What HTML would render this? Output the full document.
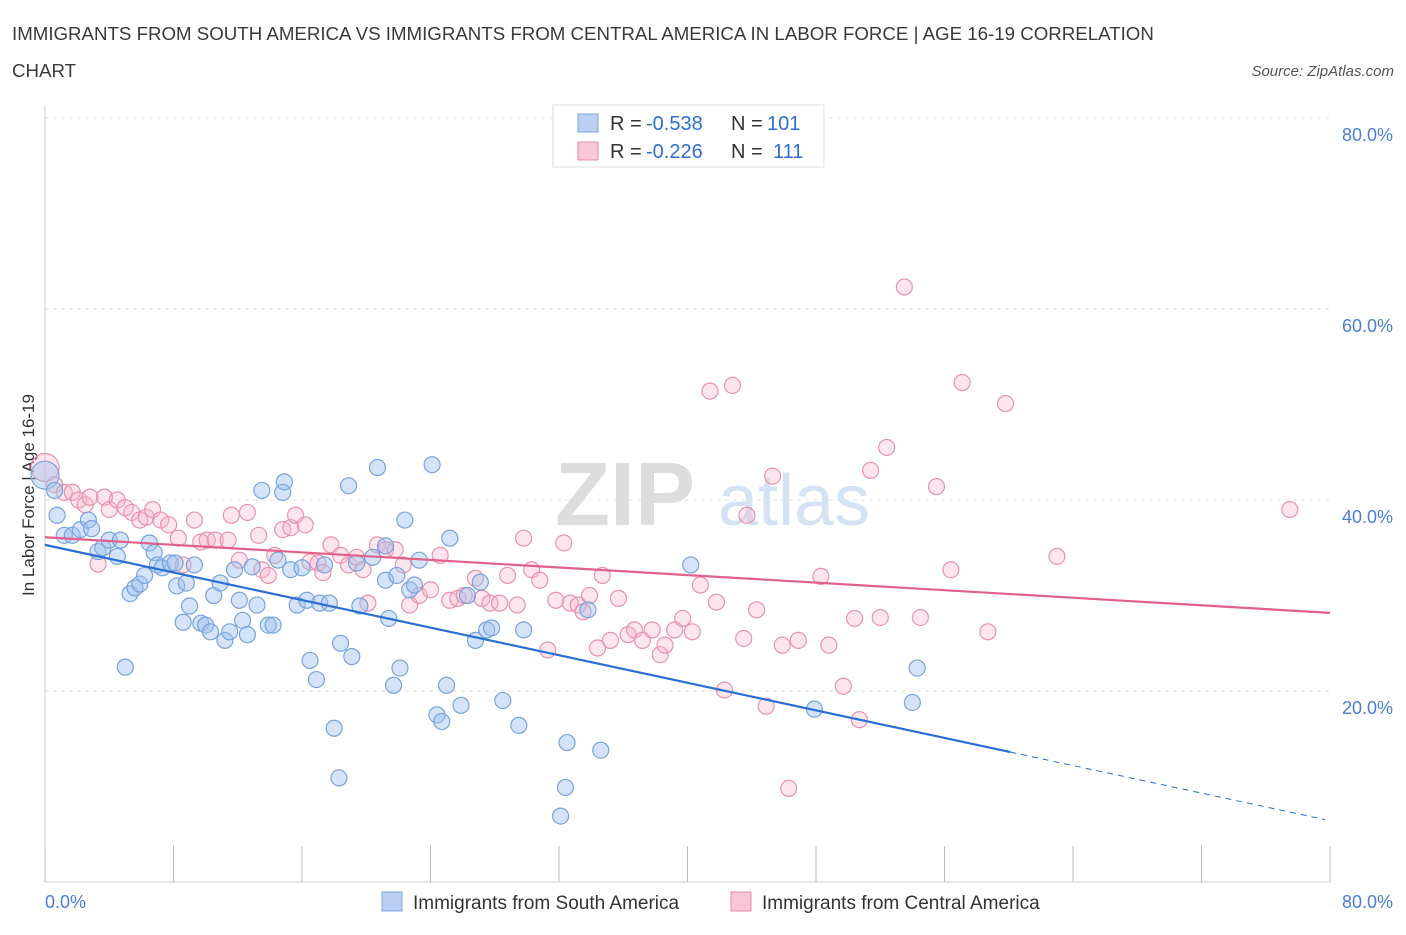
<!DOCTYPE html>
<html><head><meta charset="utf-8"><style>
body{margin:0;background:#fff;font-family:"Liberation Sans",sans-serif;}
svg text{font-family:"Liberation Sans",sans-serif;}
</style></head><body>
<svg id="chart" width="1406" height="930" xmlns="http://www.w3.org/2000/svg">
<text x="12" y="40" font-size="18.7" fill="#3a3a3a">IMMIGRANTS FROM SOUTH AMERICA VS IMMIGRANTS FROM CENTRAL AMERICA IN LABOR FORCE | AGE 16-19 CORRELATION</text>
<text x="12" y="77" font-size="18.7" fill="#3a3a3a">CHART</text>
<text x="1394" y="76" font-size="15" fill="#555" font-style="italic" text-anchor="end">Source: ZipAtlas.com</text>
<g id="grid"></g>
<text x="555" y="525" font-size="90" fill="#ddd" font-family="Liberation Serif" font-weight="bold">ZIP</text>
<text x="718" y="525" font-size="72" fill="#d4e2f4">atlas</text>
<text transform="translate(34,495) rotate(-90)" font-size="17" fill="#333" text-anchor="middle">In Labor Force | Age 16-19</text>
<g id="marks"></g>
<g>
<rect x="553" y="105" width="271" height="62" fill="#fff" stroke="#ddd"/>
<rect x="578" y="114" width="20" height="18" fill="#b9d0f3" stroke="#7aa6e0"/>
<rect x="578" y="142" width="20" height="18" fill="#f9c7d6" stroke="#e88aa8"/>
<text x="610" y="130" font-size="20" fill="#333">R =</text><text x="646" y="130" font-size="20" fill="#2f6fd0">-0.538</text>
<text x="731" y="130" font-size="20" fill="#333">N =</text><text x="767" y="130" font-size="20" fill="#2f6fd0">101</text>
<text x="610" y="158" font-size="20" fill="#333">R =</text><text x="646" y="158" font-size="20" fill="#2f6fd0">-0.226</text>
<text x="731" y="158" font-size="20" fill="#333">N =</text><text x="773" y="158" font-size="20" fill="#2f6fd0">111</text>
</g>
<g>
<rect x="382" y="892" width="20" height="19" fill="#b9d0f3" stroke="#7aa6e0"/>
<text x="413" y="909" font-size="19" fill="#333">Immigrants from South America</text>
<rect x="731" y="892" width="20" height="19" fill="#f9c7d6" stroke="#e88aa8"/>
<text x="762" y="909" font-size="19" fill="#333">Immigrants from Central America</text>
</g>
</svg>
<script>
const xTicks=[0,8,16,24,32,40,48,56,64,72,80];
const yTicks=[20,40,60,80];
const blueX=[0,0.6,0.75,1.2,1.7,2.2,2.7,2.9,3.3,3.6,4,4.5,4.7,5,5.3,5.6,5.9,6.2,6.5,6.8,7,7.3,7.8,8.1,8.2,8.6,8.8,9,9.3,9.7,10,10.3,10.5,10.9,11.2,11.5,11.8,12.1,12.3,12.6,12.9,13.2,13.5,13.9,14.2,14.5,14.8,14.9,15.3,15.7,16,16.3,16.5,16.9,17.1,17.4,17.7,18,18.3,18.4,18.9,19.1,19.4,19.6,20.4,20.7,21.2,21.2,21.4,21.7,21.9,22.1,22.4,22.7,23,23.3,24.1,24.4,24.7,25,25.2,25.9,26.3,26.8,27.1,27.5,27.8,28.5,29.5,29.8,32.1,32.4,32.5,33.8,34.6,40.2,47.9,54,54.3];
const blueY=[42.6,41,38.4,36.3,36.3,36.9,37.9,37,34.6,35,35.8,34.1,35.8,22.5,30.2,30.8,31.2,32.1,35.5,34.5,33.2,32.9,33.4,33.4,31,27.2,31.3,28.9,33.2,27.1,26.9,26.2,30,31.3,25.3,26.2,32.7,29.5,27.4,25.9,33,29,41,26.9,26.9,33.7,40.8,41.9,32.7,29,32.9,29.5,23.2,21.2,29.2,33.2,29.2,16.1,10.9,25,41.5,23.6,33.4,28.9,34,43.4,31.6,35.2,27.6,20.6,32.1,22.4,37.9,30.6,31.1,33.7,43.7,17.5,16.8,20.6,36,18.5,30,25.3,31.4,26.4,26.6,19,16.4,26.4,6.9,9.9,14.6,28.5,13.8,33.2,18.1,18.8,22.4];
const pinkX=[0,0.6,1.2,1.7,2.1,2.5,2.8,3.3,3.7,4,4.5,5,5.4,5.9,6.3,6.7,7.2,7.7,8.3,8.6,9.3,9.7,10.1,10.6,11.4,11.6,12.1,12.6,13.3,13.5,13.9,14.3,14.8,15.3,15.6,16.2,16.5,17,17.3,17.8,18.4,18.9,19.4,19.8,20.1,20.7,21.2,21.8,22.3,22.7,23.3,24,24.6,25.2,25.7,26.1,26.8,27.2,27.7,28.3,28.8,29.4,29.8,30.3,30.8,31.3,31.8,32.3,32.7,33.2,33.5,33.9,34.4,34.7,35.2,35.7,36.3,36.7,37.2,37.8,38.3,38.6,39.2,39.7,40.3,40.8,41.4,41.8,42.3,42.8,43.5,43.7,44.3,44.9,45.3,45.9,46.3,46.9,48.3,48.8,49.7,50.4,50.7,51.4,52,52.4,53.5,54.5,55.5,56.4,57.1,58.7,59.8,63,77.5];
const pinkY=[43.4,41.6,40.8,40.8,40,39.5,40.3,33.3,40.3,39,40,39.2,38.7,37.9,38.2,39,37.9,37.4,36,33.2,37.9,35.6,35.8,35.8,35.8,38.4,33.7,38.7,36.3,32.7,32.1,34.2,36.9,37.1,38.4,37.4,33.5,33.4,32.4,35.3,34.2,33.2,34,32.7,29.2,35.3,34.8,34.8,33.2,29,30,30.6,34.2,29.5,29.7,30,31.8,29.7,29.2,29.2,32.1,29,36,32.7,31.6,24.3,29.5,35.5,29.2,29,28.3,30,24.5,32.1,25.3,29.7,25.9,26.4,25.3,26.4,23.8,24.8,26.4,27.6,26.2,31.1,51.4,29.3,20.1,52,25.5,38.4,28.5,18.4,42.5,24.8,9.8,25.3,32,24.8,20.5,27.6,17,43.1,27.7,45.5,62.3,27.7,41.4,32.7,52.3,26.2,50.1,34.1,39];
const blueTrend=[35.3,-0.361];
const pinkTrend=[36.1,-0.099];
const X=v=>45+v*1285/80, Y=v=>882-v*764/80;
const NS="http://www.w3.org/2000/svg";
function mk(tag,attrs,parent){const e=document.createElementNS(NS,tag);for(const k in attrs)e.setAttribute(k,attrs[k]);parent.appendChild(e);return e;}
const grid=document.getElementById('grid'), marks=document.getElementById('marks');
yTicks.forEach(t=>{const l=mk('line',{x1:45,x2:1330,y1:Y(t),y2:Y(t),stroke:'#e2e2e2','stroke-dasharray':'4,4'},grid);


const tx=mk('text',{x:1393,y:Y(t)+23,'font-size':18,fill:'#4a7fd4','text-anchor':'end'},grid);tx.textContent=t.toFixed(1)+'%';

});
const ax=mk('line',{x1:45,x2:1330,y1:882,y2:882,stroke:'#ccc'},grid);


const ay=mk('line',{x1:45,x2:45,y1:105,y2:882,stroke:'#ccc'},grid);


xTicks.forEach(t=>{const l=mk('line',{x1:X(t),x2:X(t),y1:846,y2:882,stroke:'#bbb'},grid);

});
[[0,'0.0%','start',45],[80,'80.0%','end',1393]].forEach(a=>{const tx=mk('text',{x:a[3],y:908,'font-size':18,fill:'#4a7fd4','text-anchor':a[2]},grid);tx.textContent=a[1];

});
function pts(xs,ys,fill,stroke,name){xs.forEach((x,i)=>{const c=mk('circle',{cx:X(x),cy:Y(ys[i]),r:i==0?14:8,fill:fill,stroke:stroke,'stroke-width':1.2},marks);

});}
pts(pinkX,pinkY,'rgba(246,180,200,0.35)','#e892ae','point-central-america');
pts(blueX,blueY,'rgba(160,192,238,0.45)','#78a3dc','point-south-america');
const b1=mk('line',{x1:X(0),y1:Y(blueTrend[0]),x2:X(60.1),y2:Y(blueTrend[0]+blueTrend[1]*60.1),stroke:'#2a6fd6','stroke-width':2.2},marks);


const b2=mk('line',{x1:X(60.1),y1:Y(blueTrend[0]+blueTrend[1]*60.1),x2:X(79.7),y2:Y(blueTrend[0]+blueTrend[1]*79.7),stroke:'#2a6fd6','stroke-width':1,'stroke-dasharray':'6,5'},marks);


const p1=mk('line',{x1:X(0),y1:Y(pinkTrend[0]),x2:X(80),y2:Y(pinkTrend[0]+pinkTrend[1]*80),stroke:'#e0608a','stroke-width':2.2},marks);


</script>
</body></html>
